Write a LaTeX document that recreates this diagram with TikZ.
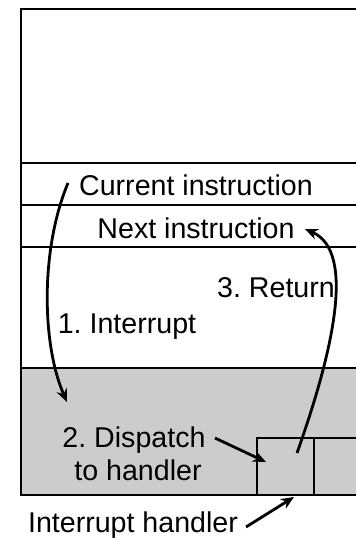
\documentclass[tikz,border=0pt]{standalone}
\usepackage{fontspec}
\setmainfont{Liberation Sans}
\usetikzlibrary{arrows.meta}
\frenchspacing

\begin{document}
\begin{tikzpicture}[
		x=0.5pt, y=-0.5pt,
		every node/.style={font=\fontsize{14.3}{17}\selectfont, inner sep=0pt, anchor=base},
		mem/.style={line width=1.1pt},
		arrow/.style={-{Stealth[length=6.5pt,width=5.5pt]}, line width=1.4pt}
	]

	\useasboundingbox (0,0) rectangle (356,538);
	\clip (0,0) rectangle (356,538);

	% Memory layout
	\fill[gray!40] (21,368) rectangle (380,495);
	\draw[mem] (380,9) -- (21,9) -- (21,495) -- (380,495);
	\draw[mem] (21,163) -- (380,163);
	\draw[mem] (21,205) -- (380,205);
	\draw[mem] (21,247) -- (380,247);
	\draw[mem] (21,368) -- (380,368);

	% Handler slots
	\draw[mem] (257,495) -- (257,438) -- (380,438);
	\draw[mem] (314,438) -- (314,495);

	% Labels
	\node (curr) at (196,195) {Current instruction};
	\node (next) at (196,238) {Next instruction};
	\node (ret) at (276,297) {3. Return};
	\node (intr) at (127,333) {1. Interrupt};
	\node (disp) at (134,447) {2. Dispatch};
	\node (disp2) at (138,480) {to handler};
	\node (handler) at (133,532) {Interrupt handler};

	% Arrow ends
	\coordinate (intrA) at (68,183);
	\coordinate (intrB) at (67,402);
	\coordinate (dispA) at (215,438);
	\coordinate (dispB) at (266,462);
	\coordinate (retA) at (297,453);
	\coordinate (retB) at (305,229);
	\coordinate (handA) at (246,527);
	\coordinate (handB) at (294,497);

	% Arrows
	\draw[arrow] (intrA) .. controls (40,250) and (42,345) .. (intrB);
	\draw[arrow] (dispA) -- (dispB);
	\draw[arrow] (retA) .. controls (330,360) and (358,252) .. (retB);
	\draw[arrow] (handA) -- (handB);

\end{tikzpicture}
\end{document}
